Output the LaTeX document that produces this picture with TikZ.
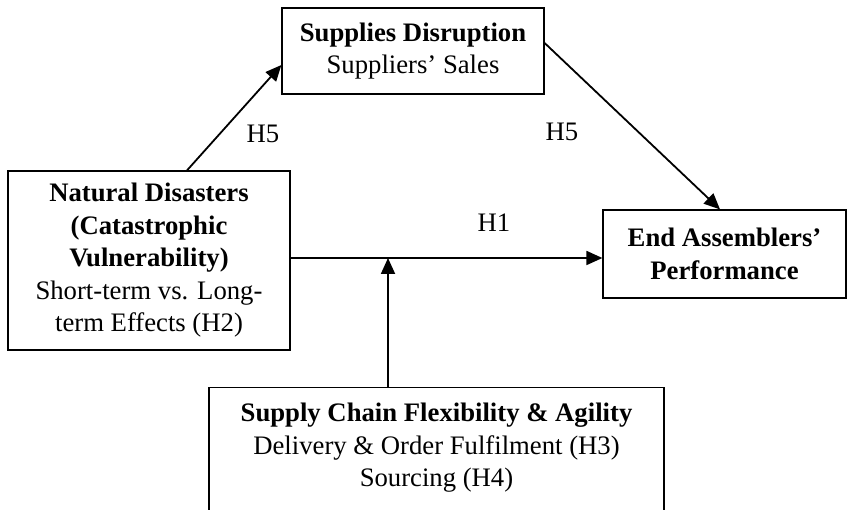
\documentclass[tikz,border=0pt]{standalone}
\usepackage{fontspec}
\setmainfont{Liberation Serif}
\usetikzlibrary{arrows.meta}
\tikzset{every picture/.style={x=1pt, y=-1pt}}
\tikzset{box/.style={draw, line width=1.2pt, inner sep=0pt, align=center,
  font=\fontsize{26.7}{32.5}\selectfont}}
\tikzset{arr/.style={line width=1.8pt, -{Triangle[length=16pt, width=14pt]}}}
\tikzset{hyp/.style={font=\fontsize{26.7}{32.5}\selectfont}}

\begin{document}
\begin{tikzpicture}
\useasboundingbox (0,0) rectangle (848,510);
\clip (0,0) rectangle (848,510);
\node[box, minimum width=262, minimum height=86] (sup) at (413,51)
  {\textbf{Supplies Disruption}\\Suppliers' Sales};
\node[box, minimum width=282, minimum height=179] (nat) at (149,260.5)
  {\textbf{Natural Disasters}\\\textbf{(Catastrophic}\\\textbf{Vulnerability)}\\Short-term vs. Long-\\term Effects (H2)};
\node[box, minimum width=243, minimum height=88] (end) at (724.5,254)
  {\textbf{End Assemblers'}\\\textbf{Performance}};
\node[box, minimum width=455, minimum height=150, anchor=north] (scf) at (436.5,387) {};
\node[box, draw=none] (scftext) at (436.5,448)
  {\textbf{Supply Chain Flexibility \& Agility}\\Delivery \& Order Fulfilment (H3)\\Sourcing (H4)};
\coordinate (h) at (388,258);
\draw[arr] ([xshift=38pt]nat.north) -- ([yshift=-14pt]sup.west);
\draw[arr] ([yshift=8pt]sup.east) -- ([xshift=-4.5pt]end.north);
\draw[arr] (nat.east |- h) -- (end.west |- h);
\draw[arr] (scf.north -| h) -- (h);
\node[hyp] (h5a) at (263,134) {H5};
\node[hyp] (h5b) at (562,132) {H5};
\node[hyp] (h1) at (494,223) {H1};
\end{tikzpicture}
\end{document}
